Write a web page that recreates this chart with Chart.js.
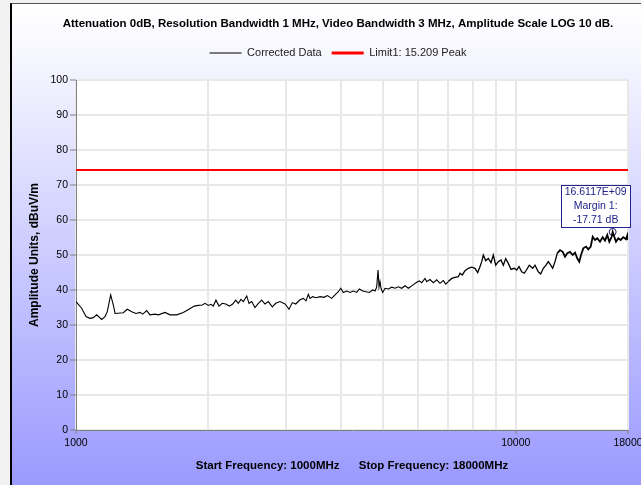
<!DOCTYPE html>
<html><head><meta charset="utf-8">
<script src="https://cdn.jsdelivr.net/npm/chart.js@4"></script>
<style>
html,body{margin:0;padding:0;width:641px;height:485px;overflow:hidden;background:#f2f2f2;}
#frame{position:absolute;left:10px;top:3px;width:700px;height:490px;border-left:2px solid #000;border-top:1px solid #555;
  background:linear-gradient(to bottom,#ffffff 0%,#f7f7ff 10%,#9898ff 100%);}
#c{position:absolute;left:0;top:0;}
</style></head><body>
<div id="frame"><canvas id="c" width="660" height="481"></canvas></div>
<script>
const titleText = 'Attenuation 0dB, Resolution Bandwidth 1 MHz, Video Bandwidth 3 MHz, Amplitude Scale LOG 10 dB.';
const xTitle = 'Start Frequency: 1000MHz      Stop Frequency: 18000MHz';
const yTitle = 'Amplitude Units, dBuV/m';
const seriesNames = ['Corrected Data', 'Limit1: 15.209 Peak'];

const freqMHz = [1000,1030,1054,1076,1095,1114,1144,1164,1178,1199,1216,1227,1281,1308,1339,1369,1398,1418,1448,1473,
 1512,1539,1594,1636,1694,1754,1810,1858,1897,1937,1965,1999,2028,2052,2081,2114,2151,2190,2232,2272,
 2308,2339,2373,2401,2445,2474,2509,2553,2598,2644,2690,2737,2795,2845,2910,2988,3051,3104,3160,3232,
 3288,3335,3375,3406,3454,3514,3589,3665,3729,3815,3882,3950,4000,4054,4127,4199,4272,4349,4409,4488,
 4566,4646,4729,4787,4829,4862,4888,4913,4939,4983,5044,5132,5224,5315,5408,5505,5601,5698,5831,5955,
 6036,6112,6219,6274,6383,6494,6611,6726,6843,6930,7025,7151,7276,7402,7469,7559,7667,7801,7941,8079,
 8194,8294,8368,8438,8545,8662,8785,8892,9004,9127,9257,9370,9488,9618,9755,9924,10050,10171,10316,10457,
 10551,10735,10928,11061,11253,11396,11552,11717,11859,12009,12135,12282,12431,12608,12788,12943,13100,13286,13476,13639,
 13804,13949,14074,14244,14447,14622,14807,14963,15144,15327,15545,15767,15958,16151,16321,16527,16611.7,16904,17109,17325,
 17562,17812,17934,18000];
const levelDb = [36.7,34.8,32.4,31.9,32.1,32.9,31.6,32.4,33.8,38.6,35.7,33.3,33.5,34.5,33.8,33.3,33.6,33.1,34.1,32.9,
 33.1,32.9,33.6,32.9,32.9,33.6,34.6,35.4,35.6,35.7,36.2,35.6,35.9,35.4,37.1,35.4,36.2,36.0,35.4,36.0,
 37.1,36.2,37.3,36.7,38.3,36.2,36.7,35.0,36.2,37.1,36.0,36.7,35.2,36.2,36.7,36.0,34.5,36.4,36.0,37.2,
 37.6,36.9,38.8,37.6,38.1,37.8,38.1,37.9,38.4,37.6,38.6,39.5,40.5,39.3,39.7,39.3,39.7,39.3,40.3,39.7,
 39.5,39.3,40.0,39.7,40.9,45.7,40.9,42.4,40.5,39.3,40.5,40.3,40.8,40.5,40.9,40.5,41.2,40.5,41.4,42.2,
 42.6,42.1,43.3,42.4,43.0,42.1,42.9,41.9,42.7,41.7,42.4,43.3,43.6,43.8,44.8,44.3,45.5,46.2,46.5,46.2,
 45.0,46.7,48.1,50.0,48.4,49.0,47.8,50.0,47.1,48.1,48.6,47.1,49.0,47.6,45.9,46.2,45.7,46.7,45.2,44.8,
 45.5,47.1,46.2,47.1,45.2,44.6,46.2,47.1,48.1,47.1,46.2,48.1,50.5,51.4,50.9,49.5,50.5,50.9,50.0,50.7,
 49.0,48.1,50.0,51.9,52.4,51.6,52.4,55.2,54.3,54.8,53.8,55.1,54.1,55.7,53.8,55.2,56.59,53.8,54.8,54.3,
 55.1,54.5,55.6,54.3];
const limitFreq = [1000, 18000];
const limitLevel = [74.3, 74.3];
const markerFreq = [16611.7];
const markerLevel = [56.59];
const xTickValues = [1000,2000,3000,4000,5000,6000,7000,8000,9000,10000,18000];
const xLabelValues = [1000,10000,18000];
const yTickValues = [0,10,20,30,40,50,60,70,80,90,100];

const FONT = "'Liberation Sans', Arial, sans-serif";
const toPts = (xs, ys) => xs.map((x, i) => ({x: x, y: ys[i]}));

const plotBg = { id:'plotBg', beforeDraw(chart){
  const a = chart.chartArea, c = chart.ctx; c.save(); c.fillStyle = '#fff';
  c.fillRect(a.left, a.top, a.right - a.left, a.bottom - a.top); c.restore(); } };

const legendSpacer = { id:'legendSpacer', beforeLayout(chart){
  const lg = chart.legend;
  if (lg && !lg._patched) { const orig = lg.fit; lg.fit = function(){ orig.call(this); this.height = 42.5; }; lg._patched = true; }
} };

const markerBox = { id:'markerBox', afterDatasetsDraw(chart){
  const pt = chart.getDatasetMeta(2).data[0]; if (!pt) return;
  const px = pt.x, py = pt.y, c = chart.ctx;
  const lines = [(markerFreq[0] / 1000).toFixed(4) + 'E+09', 'Margin 1:', (markerLevel[0] - limitLevel[0]).toFixed(2) + ' dB'];
  c.save();
  const left = Math.round(px - 52), top = Math.round(py - 47), w = 70, h = 43;
  c.fillStyle = '#fff'; c.fillRect(left, top, w, h);
  c.strokeStyle = '#22228a'; c.lineWidth = 1; c.strokeRect(left + 0.5, top + 0.5, w - 1, h - 1);
  c.fillStyle = '#22228a'; c.font = '10.5px ' + FONT; c.textAlign = 'center'; c.textBaseline = 'middle';
  lines.forEach((t, i) => c.fillText(t, px - 17, py - 40 + i * 14));
  c.restore();
} };

const legendLineWidths = [1, 3];

new Chart(document.getElementById('c'), {
  type: 'line',
  data: { datasets: [
    { label: seriesNames[0], data: toPts(freqMHz, levelDb), borderColor: '#000', borderWidth: 1.1, pointRadius: 0, tension: 0, fill: false,
      segment: { borderWidth: s => s.p0.parsed.x >= 12400 ? 1.8 : (s.p0.parsed.x >= 7000 ? 1.3 : 1.1) } },
    { label: seriesNames[1], data: toPts(limitFreq, limitLevel), borderColor: '#ff0000', borderWidth: 2, pointRadius: 0, fill: false },
    { label: 'marker', data: toPts(markerFreq, markerLevel), showLine: false, pointRadius: 3.5, pointStyle: 'circle',
      pointBorderColor: '#1c1c6c', pointBackgroundColor: 'rgba(0,0,0,0)', pointBorderWidth: 1, borderColor: '#1c1c6c' }
  ]},
  options: {
    responsive: false, animation: false, devicePixelRatio: 1,
    layout: { padding: { left: 36, right: 44, top: 0, bottom: 0 } },
    plugins: {
      title: { display: true, text: titleText, color: '#000', font: { family: FONT, size: 11.5, weight: 'bold' }, padding: { top: 13.4, bottom: 6.3 } },
      legend: { display: true, position: 'top',
        labels: { usePointStyle: true, pointStyle: 'line', pointStyleWidth: 32, boxHeight: 11, padding: 10, color: '#222',
          font: { family: FONT, size: 11 },
          generateLabels(chart){
            const items = Chart.defaults.plugins.legend.labels.generateLabels(chart);
            return items.filter(i => i.datasetIndex < 2).map(i => { i.lineWidth = legendLineWidths[i.datasetIndex]; i.pointStyle = 'line'; return i; });
          } } },
      tooltip: { enabled: false }
    },
    scales: {
      x: { type: 'logarithmic', position: 'bottom', min: 1000, max: 18000, bounds: 'data',
        afterBuildTicks: s => { s.ticks = xTickValues.map(v => ({ value: v })); },
        afterFit: s => { s.height = 55; },
        ticks: { autoSkip: false, maxRotation: 0, minRotation: 0, padding: 3, color: '#000', font: { family: FONT, size: 10.5 },
          callback: v => xLabelValues.includes(v) ? String(v) : '' },
        grid: { color: '#e8e8e8', lineWidth: 2, tickLength: 4, tickWidth: 1,
          tickColor: c => (c.tick && xLabelValues.includes(c.tick.value)) ? '#808080' : 'rgba(0,0,0,0)' },
        border: { color: '#808080', width: 1 },
        title: { display: true, text: xTitle, color: '#000', font: { family: FONT, size: 11.5, weight: 'bold' }, padding: { top: 0, bottom: 12.4 } }
      },
      y: { type: 'linear', min: 0, max: 100,
        afterBuildTicks: s => { s.ticks = yTickValues.map(v => ({ value: v })); },
        afterFit: s => { s.width = 28; },
        ticks: { padding: 2, color: '#000', font: { family: FONT, size: 10.5 } },
        grid: { color: '#e8e8e8', lineWidth: 2, tickLength: 6, tickWidth: 1, tickColor: '#808080' },
        border: { color: '#808080', width: 1 },
        title: { display: true, text: yTitle, color: '#000', font: { family: FONT, size: 12, weight: 'bold' }, padding: { top: -20.5, bottom: 0 } }
      }
    }
  },
  plugins: [plotBg, legendSpacer, markerBox]
});
</script>
</body></html>
